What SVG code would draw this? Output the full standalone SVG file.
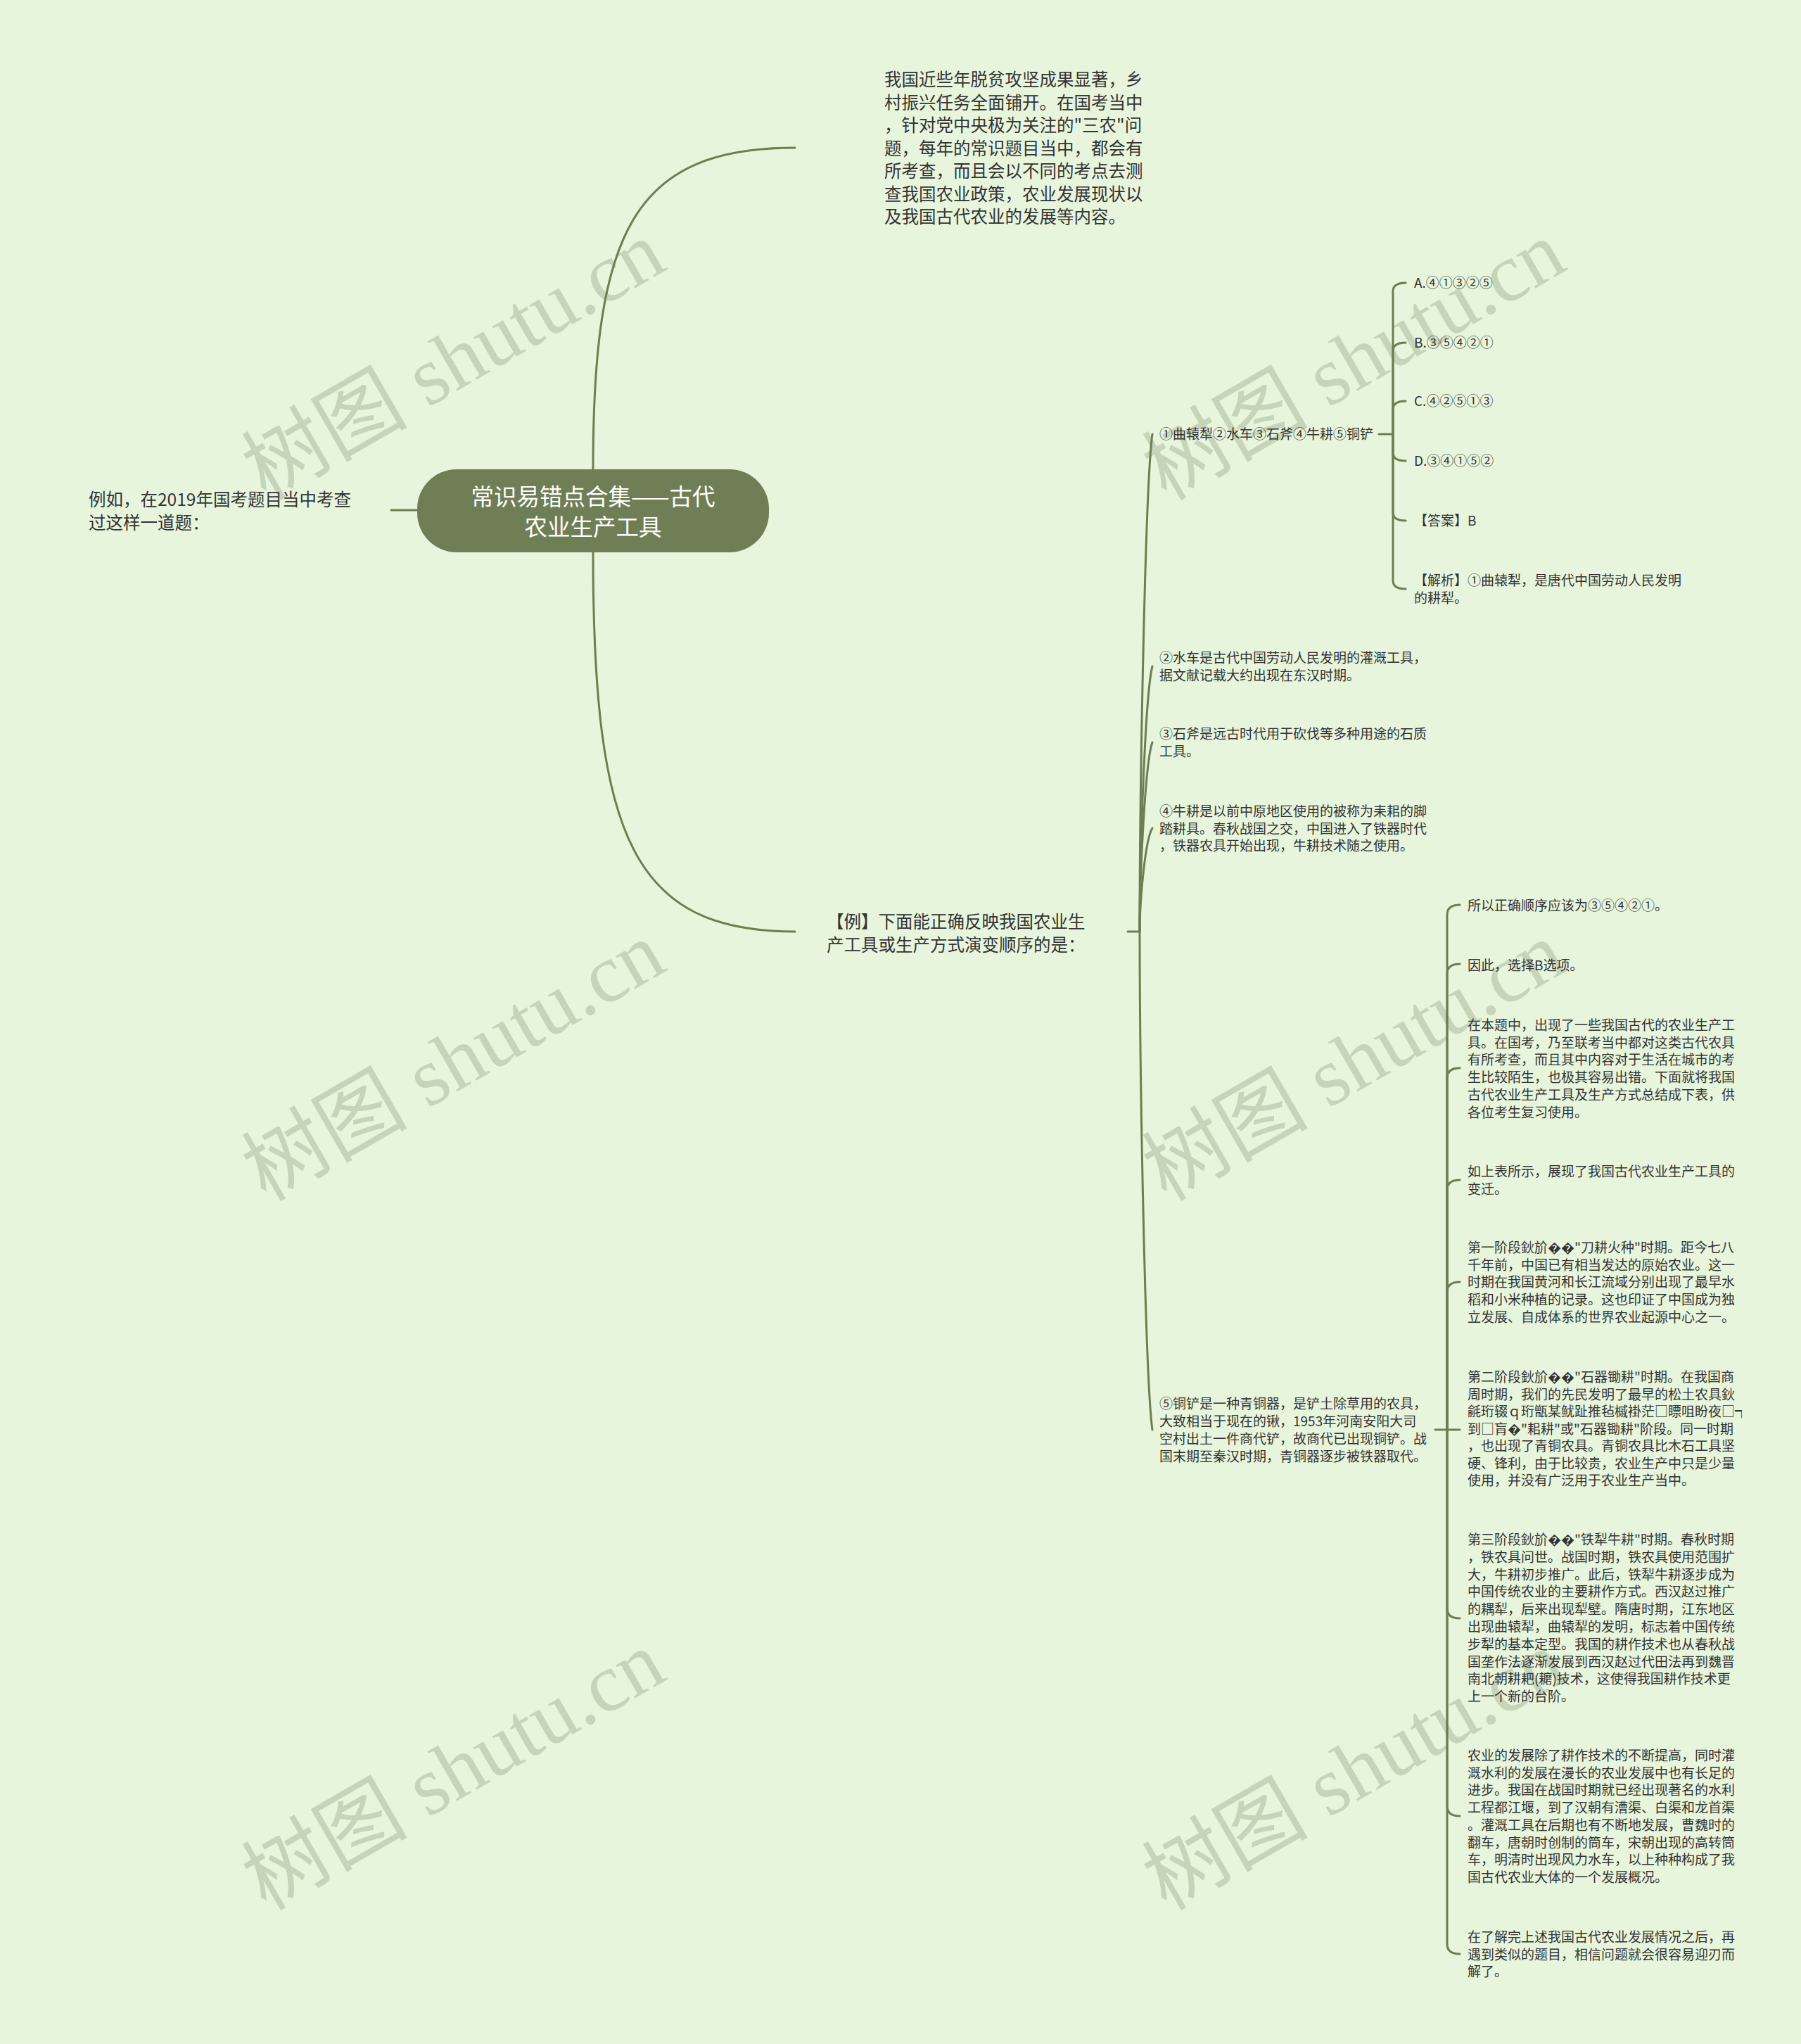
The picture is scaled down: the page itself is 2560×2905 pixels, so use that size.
<svg xmlns="http://www.w3.org/2000/svg" width="2560" height="2905" viewBox="0 0 2560 2905">
<style>
.bg{fill:#e7f5dc}
.wm{font-family:"Liberation Serif","Noto Sans CJK SC",serif;font-size:118px;fill:#c6d4b9}
.ln{fill:none;stroke:#6f7d52;stroke-width:3;stroke-linecap:round}
.s{font-family:"Noto Sans CJK SC","Noto Sans",sans-serif;font-size:19px;fill:#333333}
.m{font-family:"Noto Sans CJK SC","Noto Sans",sans-serif;font-size:24.5px;fill:#333333}
.title{font-family:"Noto Sans CJK SC","Noto Sans",sans-serif;font-size:32.5px;fill:#ffffff;text-anchor:middle}
.root{fill:#707e55}
</style>
<rect class="bg" x="0" y="0" width="2560" height="2905"/>
<g id="watermarks">
<text class="wm" x="646" y="552" text-anchor="middle" transform="rotate(-30 646 515)">树图 shutu.cn</text>
<text class="wm" x="1926" y="552" text-anchor="middle" transform="rotate(-30 1926 515)">树图 shutu.cn</text>
<text class="wm" x="646" y="1548" text-anchor="middle" transform="rotate(-30 646 1511)">树图 shutu.cn</text>
<text class="wm" x="1926" y="1548" text-anchor="middle" transform="rotate(-30 1926 1511)">树图 shutu.cn</text>
<text class="wm" x="646" y="2556" text-anchor="middle" transform="rotate(-30 646 2519)">树图 shutu.cn</text>
<text class="wm" x="1926" y="2556" text-anchor="middle" transform="rotate(-30 1926 2519)">树图 shutu.cn</text>
</g>
<g id="connectors">
<path class="ln" d="M843,667 C843,330 900,210 1130,210"/>
<path class="ln" d="M843,785 C843,1190 900,1324 1130,1324"/>
<path class="ln" d="M593,725 L556,725"/>
<path class="ln" d="M1603,1324 L1620,1324"/>
<path class="ln" d="M1620,1324 C1620,1112 1628,688 1638,617"/>
<path class="ln" d="M1620,1324 C1620,1211 1628,985 1638,947"/>
<path class="ln" d="M1620,1324 C1620,1243 1628,1082 1638,1055"/>
<path class="ln" d="M1620,1324 C1620,1280 1628,1192 1638,1177"/>
<path class="ln" d="M1620,1324 C1620,1536 1628,1961 1638,2032"/>
<path class="ln" d="M1960,617 L1980,617"/>
<path class="ln" d="M1980,617 L1980,414 Q1980,402 1998,402"/>
<path class="ln" d="M1980,617 L1980,499 Q1980,487 1998,487"/>
<path class="ln" d="M1980,617 L1980,582 Q1980,570 1998,570"/>
<path class="ln" d="M1980,617 L1980,643 Q1980,655 1998,655"/>
<path class="ln" d="M1980,617 L1980,728 Q1980,740 1998,740"/>
<path class="ln" d="M1980,617 L1980,825 Q1980,837 1998,837"/>
<path class="ln" d="M2040,2032 L2057,2032"/>
<path class="ln" d="M2057,2032 L2057,1300 Q2057,1286 2075,1286"/>
<path class="ln" d="M2057,2032 L2057,1384 Q2057,1370 2075,1370"/>
<path class="ln" d="M2057,2032 L2057,1532 Q2057,1518 2075,1518"/>
<path class="ln" d="M2057,2032 L2057,1691 Q2057,1677 2075,1677"/>
<path class="ln" d="M2057,2032 L2057,1836 Q2057,1822 2075,1822"/>
<path class="ln" d="M2057,2032 L2075,2032"/>
<path class="ln" d="M2057,2032 L2057,2286 Q2057,2300 2075,2300"/>
<path class="ln" d="M2057,2032 L2057,2567 Q2057,2581 2075,2581"/>
<path class="ln" d="M2057,2032 L2057,2763 Q2057,2777 2075,2777"/>
</g>
<g id="root">
<rect class="root" x="593" y="667" width="500" height="118" rx="56" ry="56"/>
<text class="title"><tspan x="843" y="718">常识易错点合集——古代</tspan><tspan x="843" y="761">农业生产工具</tspan></text>
</g>
<g id="n-left">
<text class="m"><tspan x="126" y="719">例如，在2019年国考题目当中考查</tspan><tspan x="126" y="752">过这样一道题：</tspan></text>
</g>
<g id="n-intro">
<text class="m"><tspan x="1257" y="122">我国近些年脱贫攻坚成果显著，乡</tspan><tspan x="1257" y="154.5">村振兴任务全面铺开。在国考当中</tspan><tspan x="1257" y="187">，针对党中央极为关注的"三农"问</tspan><tspan x="1257" y="219.5">题，每年的常识题目当中，都会有</tspan><tspan x="1257" y="252">所考查，而且会以不同的考点去测</tspan><tspan x="1257" y="284.5">查我国农业政策，农业发展现状以</tspan><tspan x="1257" y="317">及我国古代农业的发展等内容。</tspan></text>
</g>
<g id="n-example">
<text class="m"><tspan x="1175" y="1319">【例】下面能正确反映我国农业生</tspan><tspan x="1175" y="1352">产工具或生产方式演变顺序的是：</tspan></text>
</g>
<g id="n-items">
<text class="s" x="1648" y="624">①曲辕犁②水车③石斧④牛耕⑤铜铲</text>
</g>
<g id="n-opt-a"><text class="s" x="2010" y="409">A.④①③②⑤</text></g>
<g id="n-opt-b"><text class="s" x="2010" y="494">B.③⑤④②①</text></g>
<g id="n-opt-c"><text class="s" x="2010" y="577">C.④②⑤①③</text></g>
<g id="n-opt-d"><text class="s" x="2010" y="662">D.③④①⑤②</text></g>
<g id="n-answer"><text class="s" x="2010" y="747">【答案】B</text></g>
<g id="n-analysis"><text class="s"><tspan x="2010" y="832">【解析】①曲辕犁，是唐代中国劳动人民发明</tspan><tspan x="2010" y="857">的耕犁。</tspan></text></g>
<g id="n-2">
<text class="s"><tspan x="1648" y="942">②水车是古代中国劳动人民发明的灌溉工具，</tspan><tspan x="1648" y="967">据文献记载大约出现在东汉时期。</tspan></text>
</g>
<g id="n-3">
<text class="s"><tspan x="1648" y="1050">③石斧是远古时代用于砍伐等多种用途的石质</tspan><tspan x="1648" y="1075">工具。</tspan></text>
</g>
<g id="n-4">
<text class="s"><tspan x="1648" y="1160">④牛耕是以前中原地区使用的被称为耒耜的脚</tspan><tspan x="1648" y="1185">踏耕具。春秋战国之交，中国进入了铁器时代</tspan><tspan x="1648" y="1209">，铁器农具开始出现，牛耕技术随之使用。</tspan></text>
</g>
<g id="n-5">
<text class="s"><tspan x="1648" y="2002">⑤铜铲是一种青铜器，是铲土除草用的农具，</tspan><tspan x="1648" y="2027">大致相当于现在的锹，1953年河南安阳大司</tspan><tspan x="1648" y="2052">空村出土一件商代铲，故商代已出现铜铲。战</tspan><tspan x="1648" y="2077">国末期至秦汉时期，青铜器逐步被铁器取代。</tspan></text>
</g>
<g id="n-5-1"><text class="s" x="2086" y="1294">所以正确顺序应该为③⑤④②①。</text></g>
<g id="n-5-2"><text class="s" x="2086" y="1379">因此，选择B选项。</text></g>
<g id="n-5-3">
<text class="s"><tspan x="2086" y="1464">在本题中，出现了一些我国古代的农业生产工</tspan><tspan x="2086" y="1488.7">具。在国考，乃至联考当中都对这类古代农具</tspan><tspan x="2086" y="1513.4">有所考查，而且其中内容对于生活在城市的考</tspan><tspan x="2086" y="1538.1">生比较陌生，也极其容易出错。下面就将我国</tspan><tspan x="2086" y="1562.8">古代农业生产工具及生产方式总结成下表，供</tspan><tspan x="2086" y="1587.5">各位考生复习使用。</tspan></text>
</g>
<g id="n-5-4">
<text class="s"><tspan x="2086" y="1672">如上表所示，展现了我国古代农业生产工具的</tspan><tspan x="2086" y="1697">变迁。</tspan></text>
</g>
<g id="n-5-5">
<text class="s"><tspan x="2086" y="1780">第一阶段鈥斺��"刀耕火种"时期。距今七八</tspan><tspan x="2086" y="1804.7">千年前，中国已有相当发达的原始农业。这一</tspan><tspan x="2086" y="1829.4">时期在我国黄河和长江流域分别出现了最早水</tspan><tspan x="2086" y="1854.1">稻和小米种植的记录。这也印证了中国成为独</tspan><tspan x="2086" y="1878.8">立发展、自成体系的世界农业起源中心之一。</tspan></text>
</g>
<g id="n-5-6">
<text class="s"><tspan x="2086" y="1964">第二阶段鈥斺��"石器锄耕"时期。在我国商</tspan><tspan x="2086" y="1988.5">周时期，我们的先民发明了最早的松土农具鈥</tspan><tspan x="2086" y="2013">毹珩辍ｑ珩甑某鱿趾推毡槭褂茫□瞟咀盼夜□┑</tspan><tspan x="2086" y="2037.5">到□肓�"耜耕"或"石器锄耕"阶段。同一时期</tspan><tspan x="2086" y="2062">，也出现了青铜农具。青铜农具比木石工具坚</tspan><tspan x="2086" y="2086.5">硬、锋利，由于比较贵，农业生产中只是少量</tspan><tspan x="2086" y="2111">使用，并没有广泛用于农业生产当中。</tspan></text>
</g>
<g id="n-5-7">
<text class="s"><tspan x="2086" y="2195">第三阶段鈥斺��"铁犁牛耕"时期。春秋时期</tspan><tspan x="2086" y="2219.8">，铁农具问世。战国时期，铁农具使用范围扩</tspan><tspan x="2086" y="2244.6">大，牛耕初步推广。此后，铁犁牛耕逐步成为</tspan><tspan x="2086" y="2269.4">中国传统农业的主要耕作方式。西汉赵过推广</tspan><tspan x="2086" y="2294.2">的耦犁，后来出现犁壁。隋唐时期，江东地区</tspan><tspan x="2086" y="2319">出现曲辕犁，曲辕犁的发明，标志着中国传统</tspan><tspan x="2086" y="2343.8">步犁的基本定型。我国的耕作技术也从春秋战</tspan><tspan x="2086" y="2368.6">国垄作法逐渐发展到西汉赵过代田法再到魏晋</tspan><tspan x="2086" y="2393.4">南北朝耕耙(耱)技术，这使得我国耕作技术更</tspan><tspan x="2086" y="2418.2">上一个新的台阶。</tspan></text>
</g>
<g id="n-5-8">
<text class="s"><tspan x="2086" y="2502">农业的发展除了耕作技术的不断提高，同时灌</tspan><tspan x="2086" y="2526.7">溉水利的发展在漫长的农业发展中也有长足的</tspan><tspan x="2086" y="2551.4">进步。我国在战国时期就已经出现著名的水利</tspan><tspan x="2086" y="2576.1">工程都江堰，到了汉朝有漕渠、白渠和龙首渠</tspan><tspan x="2086" y="2600.8">。灌溉工具在后期也有不断地发展，曹魏时的</tspan><tspan x="2086" y="2625.5">翻车，唐朝时创制的筒车，宋朝出现的高转筒</tspan><tspan x="2086" y="2650.2">车，明清时出现风力水车，以上种种构成了我</tspan><tspan x="2086" y="2674.9">国古代农业大体的一个发展概况。</tspan></text>
</g>
<g id="n-5-9">
<text class="s"><tspan x="2086" y="2760">在了解完上述我国古代农业发展情况之后，再</tspan><tspan x="2086" y="2784.7">遇到类似的题目，相信问题就会很容易迎刃而</tspan><tspan x="2086" y="2809.4">解了。</tspan></text>
</g>
</svg>
